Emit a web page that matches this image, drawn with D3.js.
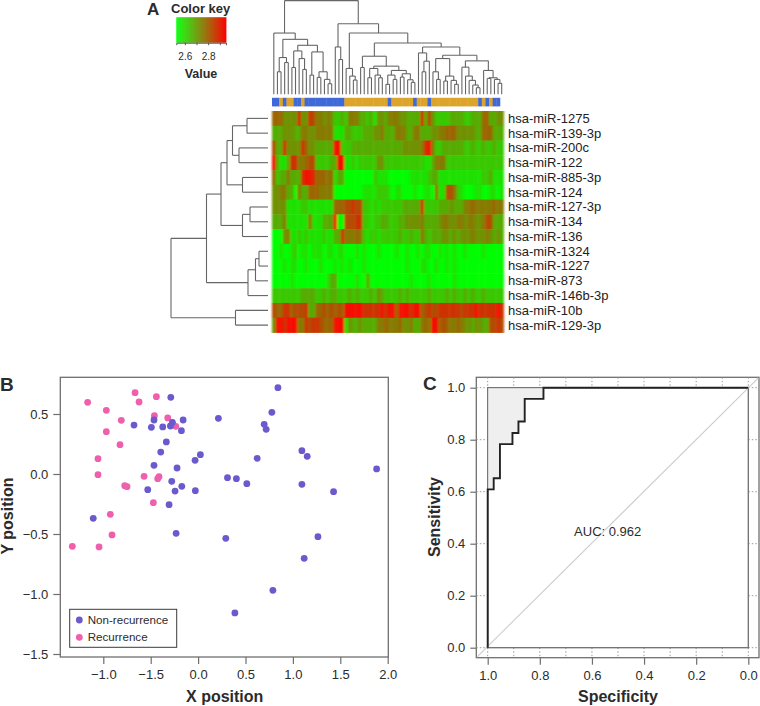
<!DOCTYPE html>
<html>
<head>
<meta charset="utf-8">
<script src="https://cdn.jsdelivr.net/npm/d3@7"></script>
<style>
html,body{margin:0;padding:0;background:#fff;}
svg{display:block;font-family:"Liberation Sans",Arial,sans-serif;}
</style>
</head>
<body>
<svg id="chart" width="760" height="706" viewBox="0 0 760 706"></svg>
<script>
// ---------- Panel A data ----------
const miRNAs = ["hsa-miR-1275","hsa-miR-139-3p","hsa-miR-200c","hsa-miR-122","hsa-miR-885-3p","hsa-miR-124","hsa-miR-127-3p","hsa-miR-134","hsa-miR-136","hsa-miR-1324","hsa-miR-1227","hsa-miR-873","hsa-miR-146b-3p","hsa-miR-10b","hsa-miR-129-3p"];
// expression level (0 = lowest, 9 = highest) per sample, one string per miRNA
const heatLevels = [
 "66644448448755454223255533231443"+"55544333383742222333322333663344",
 "33344433554455555111332223334453"+"33555335533344556664444433666333",
 "73384444864433333992223333333333"+"33334444458952233333322322322322",
 "93113885567722223399112122222442"+"22222222221135552222222222222222",
 "62335333899866656133000000002111"+"00000011111233111111111111223111",
 "44553305336665555000000001111222"+"10110001001105117752100011001101",
 "44441111221111111666778772212122"+"22223333382222333433355655555655",
 "33351111115111333900777882212233"+"22233444453333455445545544577333",
 "00045112121111211338555652122122"+"22232232253233344343444544454343",
 "00100120110111011011000101000100"+"00100100101100101010010000100000",
 "00010110010001000101010001000000"+"00000100011001001010000000000000",
 "00000100000000013300000100300000"+"00000010000100000010000000000000",
 "22222222333322323322232322232432"+"22232322222322223232232322322222",
 "76688677783366767676999998888898"+"99699989967877888888788898888898",
 "49989995587887666999143343333556"+"55564453356599676556544344337787"
];
// expression value on the colour key for each level
const levelValues = [2.531,2.578,2.62,2.668,2.712,2.75,2.785,2.826,2.868,2.935];
const sampleGroups = "BBGBGGBBGBBBBBBBBBBBGGGGGGGGGGGGBGGGGGGBGGGBGGGGGGGGGGGGGBGBGBB";
const groupColors = {B:"#4169d8",G:"#dca42c"};
const keyRange = [2.527,2.953];
const keyTicks = [2.6,2.7,2.8,2.9];
const keyLabels = {2.6:"2.6",2.8:"2.8"};
// dendrograms: [height, left, right]; 0 = next leaf
const colTree = [283,
  [185,0,[166,
    [111,[68,0,0],[96,0,0]],
    [148,
      [131,[81,0,0],[108,0,[75,0,0]]],
      [128,[58,0,0],[68,[51,0,0],[45,0,[32,0,0]]]]]]],
  [213,
    [143,0,[105,0,0]],
    [185,
      [78,0,[55,0,[43,0,0]]],
      [155,
        [115,[81,0,0],[85,
          [78,[50,0,0],[58,0,[50,0,0]]],
          [72,[58,[30,0,0],[45,0,0]],[62,[52,0,0],[44,0,[36,0,0]]]]]],
        [143,
          [125,0,[100,[68,0,0],0]],
          [118,
            [108,[68,0,[45,0,0]],[55,[40,0,0],[42,0,[30,0,0]]]],
            [101,
              [82,0,[55,0,[42,0,[28,0,[20,0,0]]]]],
              [72,0,[50,[48,0,0],[45,0,[33,0,0]]]]]]]]]]];
const rowTree = [97,
  [61.5,
    [47,
      [41,[35.5,[21,0,0],[29,0,0]],[25.5,0,0]],
      [25.5,[18,0,0],0]],
    [20,[12.5,[9,0,0],0],0]],
  [32.5,0,0]];

// ---------- Panel B data ----------
const recurrenceX = [-1.165,-0.968,-0.665,-0.623,-0.44,-0.81,-0.461,-0.32,-0.235,-0.968,-0.824,-1.056,-1.056,-0.57,-0.412,-0.426,-0.774,-0.75,-0.472,-0.926,-0.908,-1.327,-1.045];
const recurrenceY = [0.597,0.531,0.678,0.60,0.644,0.447,0.486,0.467,0.397,0.353,0.244,0.128,-0.006,-0.019,-0.022,-0.039,-0.097,-0.106,-0.239,-0.336,-0.508,-0.603,-0.608];
const nonRecurrenceX = [-0.288,-0.676,-0.465,-0.493,-0.373,-0.292,-0.271,-0.158,-0.176,-0.335,-0.394,-0.465,-0.222,0.024,-0.032,-0.278,-0.172,-0.243,-0.029,-0.531,-0.306,-1.106,-0.232,0.214,0.842,0.778,0.697,0.718,1.095,1.151,0.623,1.883,0.31,0.404,0.514,1.095,1.429,0.292,1.264,1.119,0.789,0.388];
const nonRecurrenceY = [0.639,0.408,0.45,0.389,0.392,0.40,0.431,0.45,0.361,0.267,0.183,0.072,0.05,0.161,0.114,-0.061,-0.103,-0.142,-0.139,-0.131,-0.256,-0.369,-0.494,0.464,0.719,0.514,0.414,0.372,0.194,0.147,0.131,0.042,-0.031,-0.039,-0.081,-0.086,-0.147,-0.536,-0.522,-0.703,-0.969,-1.158];
const bXTicks = [-1,-0.5,0,0.5,1,1.5,2];
const bXTickLabels = ["\u22121.0","\u22121.5","0.0","0.5","1.0","1.5","2.0"];
const bYTicks = [0.5,0,-0.5,-1,-1.5];
const bYTickLabels = ["0.5","0.0","\u22120.5","\u22121.0","\u22121.5"];
const legendLabels = ["Non-recurrence","Recurrence"];
const scatterColors = ["#6a5acd","#ee5fae"];

// ---------- Panel C data ----------
const rocSpecificity = [1,1,0.977,0.977,0.953,0.953,0.905,0.905,0.882,0.882,0.858,0.858,0.786,0.786,0];
const rocSensitivity = [0,0.609,0.609,0.652,0.652,0.783,0.783,0.826,0.826,0.870,0.870,0.957,0.957,1,1];
const rocTicks = [0,0.2,0.4,0.6,0.8,1];
const rocMinorTicks = [0,0.1,0.2,0.3,0.4,0.5,0.6,0.7,0.8,0.9,1];
const aucLabel = "AUC: 0.962";

// ---------- helpers ----------
const svg = d3.select("#chart");
const defs = svg.append("defs");
defs.append("filter").attr("id","soft").attr("x","-2%").attr("y","-2%").attr("width","104%").attr("height","104%")
  .append("feGaussianBlur").attr("stdDeviation","1 0.7");
defs.append("filter").attr("id","softBar").attr("x","-2%").attr("y","-20%").attr("width","104%").attr("height","140%")
  .append("feGaussianBlur").attr("stdDeviation","0.5 0.4");

const TEXT = "#2b2b2b", AXIS = "#6f6f6f";
function label(g,x,y,str,size,opts={}){
  return g.append("text").attr("x",x).attr("y",y).text(str)
    .attr("font-size",size).attr("fill",opts.fill||TEXT)
    .attr("font-weight",opts.bold?"bold":"normal")
    .attr("text-anchor",opts.anchor||"start")
    .attr("transform",opts.rotate?`rotate(-90 ${x} ${y})`:null);
}
// walks a tree and returns centre position + segments; leaves are numbered in order
function layoutTree(tree,leafPos){
  const segs=[]; let next=0;
  (function walk(n){
    if(n===0) return {p:leafPos(next++),h:0};
    const a=walk(n[1]), b=walk(n[2]);
    segs.push([a.p,a.h,a.p,n[0]],[a.p,n[0],b.p,n[0]],[b.p,n[0],b.p,b.h]);
    return {p:(a.p+b.p)/2,h:n[0]};
  })(tree);
  return segs;
}

// ---------- Panel A ----------
const A = svg.append("g");
const nCols = heatLevels[0].length;
const colX = d3.scaleBand().domain(d3.range(nCols)).range([272,503.5]);
const rowY = d3.scaleBand().domain(d3.range(miRNAs.length)).range([111,332.5]);
const heatColor = d3.scaleLinear().domain([keyRange[0],d3.mean(keyRange),keyRange[1]])
  .range(["#00ff00","#808000","#ff0000"]);

const heatCells = heatLevels.flatMap((s,r)=>s.split("").map((c,i)=>({r,i,v:levelValues[+c]})));
A.append("g").attr("filter","url(#soft)").selectAll("rect").data(heatCells).join("rect")
  .attr("x",d=>colX(d.i)).attr("y",d=>rowY(d.r))
  .attr("width",colX.bandwidth()+0.4).attr("height",rowY.bandwidth()+0.4)
  .attr("fill",d=>heatColor(d.v));

A.append("g").attr("filter","url(#softBar)").selectAll("rect").data(sampleGroups.split("").slice(0,nCols).map((g,i)=>({g,i}))).join("rect")
  .attr("x",d=>colX(d.i)).attr("y",97.8).attr("width",colX.bandwidth()+0.4).attr("height",8.6)
  .attr("fill",d=>groupColors[d.g]);

const colH = d3.scaleLinear().domain([0,283]).range([94.3,0.6]);
const colSegs = layoutTree(colTree,i=>colX(i)+colX.bandwidth()/2);
A.append("g").attr("stroke","#666").attr("stroke-width",1.1).selectAll("line").data(colSegs).join("line")
  .attr("x1",d=>d[0]).attr("y1",d=>colH(d[1])).attr("x2",d=>d[2]).attr("y2",d=>colH(d[3]));

const rowH = d3.scaleLinear().domain([0,97]).range([268,171]);
const rowSegs = layoutTree(rowTree,i=>rowY(i)+rowY.bandwidth()/2);
A.append("g").attr("stroke","#666").attr("stroke-width",1.1).selectAll("line").data(rowSegs).join("line")
  .attr("y1",d=>d[0]).attr("x1",d=>rowH(d[1])).attr("y2",d=>d[2]).attr("x2",d=>rowH(d[3]));

miRNAs.forEach((m,i)=>label(A,508,rowY(i)+rowY.bandwidth()/2+4.4,m,13,{fill:"#222"}));

// colour key
const keyX = d3.scaleLinear().domain(keyRange).range([176.3,226]);
const keySteps = d3.range(keyRange[0],keyRange[1],(keyRange[1]-keyRange[0])/50);
A.append("g").selectAll("rect").data(keySteps).join("rect")
  .attr("x",d=>keyX(d)).attr("y",17.3).attr("width",(226-176.3)/50+0.4).attr("height",25.4)
  .attr("fill",d=>heatColor(d));
const keyAxis = d3.axisBottom(keyX).tickValues(keyTicks).tickSize(2.5).tickFormat(d=>keyLabels[d]||"").tickPadding(8);
const keyG = A.append("g").attr("transform","translate(0,42.7)").call(keyAxis);
keyG.select(".domain").attr("stroke","#555");
keyG.selectAll(".tick line").attr("stroke","#555");
keyG.selectAll("text").attr("font-size",10).attr("fill",TEXT).attr("font-family","Liberation Sans");
label(A,171,12.5,"Color key",13,{bold:true});
label(A,201,78,"Value",12.5,{bold:true,anchor:"middle"});
label(A,147,14.5,"A",17,{bold:true});

// ---------- Panel B ----------
const B = svg.append("g");
const bx = d3.scaleLinear().domain([-1,2]).range([103.3,387.7]);
const by = d3.scaleLinear().domain([0.5,-1.5]).range([414,654]);
const bBox = {l:60.3,t:377.3,r:388.3,b:657};
B.append("rect").attr("x",bBox.l).attr("y",bBox.t).attr("width",bBox.r-bBox.l).attr("height",bBox.b-bBox.t)
  .attr("fill","#fff").attr("stroke",AXIS).attr("stroke-width",1.3);
function styleAxis(g){
  g.select(".domain").remove();
  g.selectAll(".tick line").attr("stroke",AXIS).attr("stroke-width",1.2);
  g.selectAll("text").attr("font-size",13).attr("fill",TEXT).attr("font-family","Liberation Sans");
}
B.append("g").attr("transform",`translate(0,${bBox.b})`)
  .call(d3.axisBottom(bx).tickValues(bXTicks).tickSize(7).tickPadding(6).tickFormat((d,i)=>bXTickLabels[i])).call(styleAxis);
B.append("g").attr("transform",`translate(${bBox.l},0)`)
  .call(d3.axisLeft(by).tickValues(bYTicks).tickSize(7).tickPadding(5).tickFormat((d,i)=>bYTickLabels[i])).call(styleAxis);
const rPt = 3.4;
B.append("g").selectAll("circle").data(recurrenceX.map((x,i)=>[x,recurrenceY[i]])).join("circle")
  .attr("cx",d=>bx(d[0])).attr("cy",d=>by(d[1])).attr("r",rPt).attr("fill",scatterColors[1]);
B.append("g").selectAll("circle").data(nonRecurrenceX.map((x,i)=>[x,nonRecurrenceY[i]])).join("circle")
  .attr("cx",d=>bx(d[0])).attr("cy",d=>by(d[1])).attr("r",rPt).attr("fill",scatterColors[0]);
// legend
const leg = B.append("g");
leg.append("rect").attr("x",69.7).attr("y",609.3).attr("width",107).attr("height",38)
  .attr("fill","#fff").attr("stroke","#3a3a3a").attr("stroke-width",1);
legendLabels.forEach((t,i)=>{
  const y = 620+i*17.3;
  leg.append("circle").attr("cx",79.3).attr("cy",y).attr("r",3.4).attr("fill",scatterColors[i]);
  label(leg,87.7,y+4,t,11.6);
});
label(B,224.7,702,"X position",16,{bold:true,anchor:"middle"});
label(B,13,516,"Y position",16,{bold:true,anchor:"middle",rotate:true});
label(B,0,390.7,"B",19,{bold:true});

// ---------- Panel C ----------
const C = svg.append("g");
const cx = d3.scaleLinear().domain([1,0]).range([487.7,748.3]);
const cy = d3.scaleLinear().domain([0,1]).range([647.7,387.7]);
const cBox = {l:476.3,t:377.3,r:759,b:657.7};
C.append("rect").attr("x",cBox.l).attr("y",cBox.t).attr("width",cBox.r-cBox.l).attr("height",cBox.b-cBox.t)
  .attr("fill","#fff").attr("stroke",AXIS).attr("stroke-width",1.3);
// dotted grid in the margin strips
const dot = g=>g.attr("stroke","#9a9a9a").attr("stroke-width",1).attr("stroke-dasharray","1.5 2");
C.append("g").call(dot).selectAll("line").data(rocMinorTicks.flatMap(v=>[[v,cBox.t,cy(1)],[v,cy(0),cBox.b]])).join("line")
  .attr("x1",d=>cx(d[0])).attr("x2",d=>cx(d[0])).attr("y1",d=>d[1]).attr("y2",d=>d[2]);
C.append("g").call(dot).selectAll("line").data(rocTicks.flatMap(v=>[[v,cBox.l,cx(1)],[v,cx(0),cBox.r]])).join("line")
  .attr("y1",d=>cy(d[0])).attr("y2",d=>cy(d[0])).attr("x1",d=>d[1]).attr("x2",d=>d[2]);
C.append("rect").attr("x",cx(1)).attr("y",cy(1)).attr("width",cx(0)-cx(1)).attr("height",cy(0)-cy(1))
  .attr("fill","#fff").attr("stroke",AXIS).attr("stroke-width",1.3);
// identity line: runs through the plot to the outer box corners
C.append("line").attr("x1",cBox.l+0.6).attr("y1",cBox.b-0.6).attr("x2",cBox.r-0.6).attr("y2",cBox.t+0.6)
  .attr("stroke","#cdcdcd").attr("stroke-width",1.2);
// shaded area between the curve and the top-left corner
const rocPts = rocSpecificity.map((s,i)=>[s,rocSensitivity[i]]);
const rocLine = d3.line().x(d=>cx(d[0])).y(d=>cy(d[1]));
const shade = rocPts.slice(1,rocPts.length-1).concat([[1,1]]);
C.append("path").attr("d",rocLine(shade)+"Z").attr("fill","#efefef").attr("stroke","none");
C.append("path").attr("d",rocLine([[1,rocSensitivity[1]],[1,1],[rocSpecificity[13],1]])).attr("fill","none").attr("stroke",AXIS).attr("stroke-width",1);
C.append("path").attr("d",rocLine(rocPts)).attr("fill","none").attr("stroke","#232323").attr("stroke-width",1.9);
C.append("g").attr("transform",`translate(0,${cBox.b})`)
  .call(d3.axisBottom(cx).tickValues(rocTicks).tickSize(7).tickPadding(6).tickFormat(d3.format(".1f"))).call(styleAxis);
C.append("g").attr("transform",`translate(${cBox.l},0)`)
  .call(d3.axisLeft(cy).tickValues(rocTicks).tickSize(6).tickPadding(5).tickFormat(d3.format(".1f"))).call(styleAxis);
label(C,607.7,536,aucLabel,13,{anchor:"middle"});
label(C,618,701.7,"Specificity",16,{bold:true,anchor:"middle"});
label(C,439.5,517,"Sensitivity",16,{bold:true,anchor:"middle",rotate:true});
label(C,423,389.5,"C",19,{bold:true});
</script>
</body>
</html>
